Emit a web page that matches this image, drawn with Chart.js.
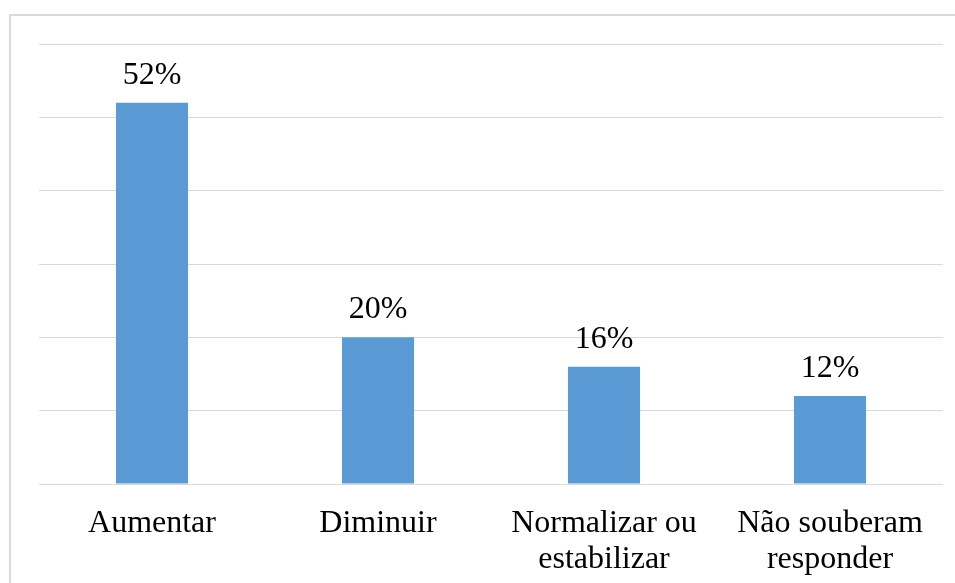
<!DOCTYPE html>
<html>
<head>
<meta charset="utf-8">
<script src="https://cdn.jsdelivr.net/npm/chart.js@4/dist/chart.umd.min.js"></script>
<style>
  html, body { margin: 0; padding: 0; background: #fff; }
  #wrap { position: relative; width: 955px; height: 583px; overflow: hidden; }
  #frame { position: absolute; left: 9px; top: 14px; width: 1000px; height: 700px;
           border-left: 2px solid #d9d9d9; border-top: 2px solid #d9d9d9; box-sizing: border-box; }
  canvas { position: absolute; left: 0; top: 0; }
</style>
</head>
<body>
<div id="wrap">
  <div id="frame"></div>
  <canvas id="c" width="955" height="583"></canvas>
</div>
<script>
// Expectativa de evolução (percentual de respostas)
const categories = [
  "Aumentar",
  "Diminuir",
  ["Normalizar ou", "estabilizar"],
  ["Não souberam", "responder"]
];
const percentages = [52, 20, 16, 12];
const yTicks = [0, 10, 20, 30, 40, 50, 60];

const serif = '"Liberation Serif", "Times New Roman", "DejaVu Serif", serif';

// Writes the percentage above each bar
const valueLabels = {
  id: 'valueLabels',
  afterDatasetsDraw(chart) {
    const ctx = chart.ctx;
    const meta = chart.getDatasetMeta(0);
    ctx.save();
    ctx.font = '32px ' + serif;
    ctx.fillStyle = '#000';
    ctx.textAlign = 'center';
    ctx.textBaseline = 'alphabetic';
    meta.data.forEach((bar, i) => {
      ctx.fillText(percentages[i] + '%', bar.x, bar.y - 19);
    });
    ctx.restore();
  }
};

new Chart(document.getElementById('c'), {
  type: 'bar',
  data: {
    labels: categories,
    datasets: [{
      data: percentages,
      backgroundColor: '#5b9bd5',
      borderWidth: 0,
      categoryPercentage: 1,
      barPercentage: 0.319
    }]
  },
  options: {
    responsive: false,
    animation: false,
    devicePixelRatio: 1,
    layout: { padding: { left: 0, right: 12, top: 44, bottom: 0 } },
    plugins: { legend: { display: false }, tooltip: { enabled: false } },
    scales: {
      x: {
        grid: { display: false },
        border: { display: false },
        ticks: {
          color: '#000',
          font: { family: serif, size: 32, lineHeight: 1.125 },
          padding: 14,
          maxRotation: 0,
          autoSkip: false
        },
        afterFit(scale) { scale.height = 99; }
      },
      y: {
        min: yTicks[0],
        max: yTicks[yTicks.length - 1],
        afterBuildTicks(scale) { scale.ticks = yTicks.map(v => ({ value: v })); },
        grid: { color: '#d9d9d9', lineWidth: 1, drawTicks: false },
        border: { display: false },
        ticks: { display: false },
        afterFit(scale) { scale.width = 39; }
      }
    }
  },
  plugins: [valueLabels]
});
</script>
</body>
</html>
